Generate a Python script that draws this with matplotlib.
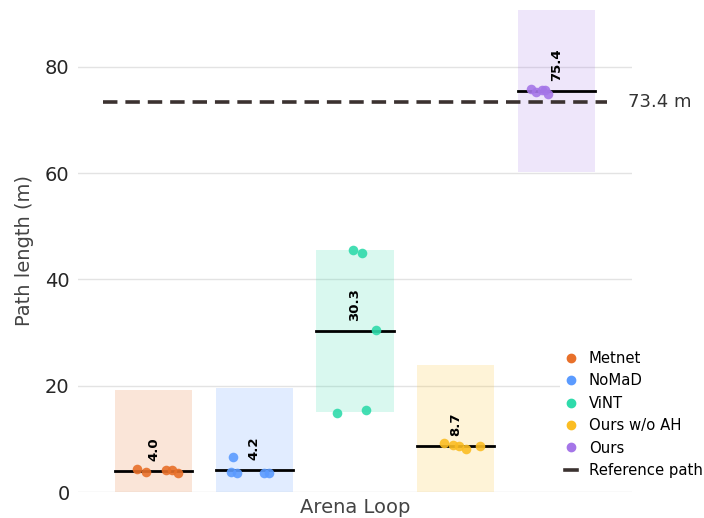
import numpy as np
import matplotlib.pyplot as plt
from matplotlib.lines import Line2D

methods = ["Metnet", "NoMaD", "ViNT", "Ours w/o AH", "Ours"]
colors = ["#e8702a", "#5b9bff", "#2fdbab", "#fbbd23", "#a576e8"]

# path length of each run (m)
metnet = [4.3, 3.7, 4.1, 4.1, 3.6]
nomad = [6.6, 3.7, 3.6, 3.6, 3.6]
vint = [45.5, 44.9, 30.5, 14.9, 15.5]
ours_wo_ah = [9.2, 8.9, 8.7, 8.0, 8.6]
ours = [75.9, 75.2, 75.6, 75.6, 74.9]
runs = [metnet, nomad, vint, ours_wo_ah, ours]

# horizontal spread of the dots inside each group
jitter = [
    [-0.032, -0.014, 0.024, 0.037, 0.048],
    [-0.042, -0.047, -0.035, 0.020, 0.029],
    [-0.004, 0.014, 0.042, -0.035, 0.022],
    [-0.024, -0.005, 0.006, 0.020, 0.048],
    [-0.051, -0.041, -0.029, -0.022, -0.016],
]

band_half = 15.3
reference = 73.4
category = "Arena Loop"

fig = plt.figure(figsize=(7.04, 5.18), dpi=100)
ax = fig.add_axes([78 / 704, 26 / 518, 554 / 704, 482 / 518])

offsets = np.linspace(-0.4, 0.4, len(methods))
width = 0.153

for i, (name, vals, col) in enumerate(zip(methods, runs, colors)):
    x0 = offsets[i]
    mean = np.mean(vals)
    lo = max(mean - band_half, 0)
    hi = mean + band_half
    ax.fill_between([x0 - width / 2, x0 + width / 2], lo, hi,
                    color=col, alpha=0.18, lw=0, zorder=1)
    ax.plot([x0 - width / 2, x0 + width / 2], [mean, mean],
            color="black", lw=2, zorder=3)
    ax.scatter(x0 + np.array(jitter[i]), vals, s=48, color=col,
               alpha=0.9, lw=0, zorder=4)
    ax.annotate(f"{mean:.1f}", (x0, mean), xytext=(0, 7),
                textcoords="offset points", rotation=90, ha="center",
                va="bottom", fontsize=9.5, fontweight="bold", zorder=5)

ax.plot([-0.5, 0.5], [reference, reference], ls=(0, (4, 2.2)), lw=2.6,
        color="#3b3230", zorder=2)
ax.text(0.543, reference, f"{reference} m", fontsize=13, color="#333333",
        va="center", ha="left")

ax.set_xlim(-0.55, 0.55)
ax.set_ylim(0, 90.7)
ax.set_xticks([0])
ax.set_xticklabels([category], fontsize=14, color="#444444")
ax.set_yticks([0, 20, 40, 60, 80])
ax.tick_params(axis="y", labelsize=14, labelcolor="#262626", length=0, pad=6)
ax.tick_params(axis="x", length=0, pad=4)
ax.set_ylabel("Path length (m)", fontsize=14, color="#444444", labelpad=8)
ax.grid(axis="y", color="#e3e3e3", lw=1, zorder=0)
ax.set_axisbelow(True)
for s in ax.spines.values():
    s.set_visible(False)

handles = [Line2D([], [], marker="o", ls="", color=c, markersize=6)
           for c in colors]
handles.append(Line2D([], [], color="#3b3230", lw=2.6))
leg = fig.legend(handles, methods + ["Reference path"], loc="lower left",
                 bbox_to_anchor=(553 / 704, 28 / 518), fontsize=10.7,
                 frameon=True, handlelength=0.8, handletextpad=0.8,
                 labelspacing=0.5, borderpad=0.3)
leg.get_frame().set_edgecolor("none")
leg.get_frame().set_facecolor("white")
leg.get_frame().set_alpha(1)

fig.savefig("out.png", dpi=100)
